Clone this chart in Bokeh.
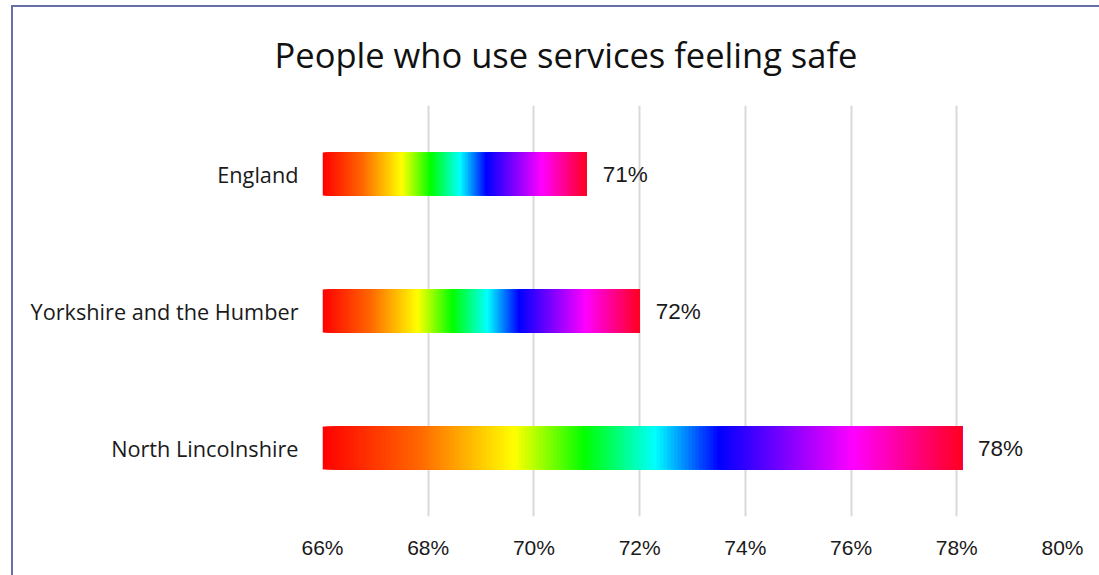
from bokeh.plotting import figure
from bokeh.models import FactorRange, Range1d, FixedTicker, Title
from bokeh.core.properties import value
from bokeh.embed import file_html
from bokeh.resources import INLINE

# ---- data ----
categories = ["England", "Yorkshire and the Humber", "North Lincolnshire"]
values = [71.0, 72.0, 78.1]
value_labels = ["71%", "72%", "78%"]
tick_values = [66, 68, 70, 72, 74, 76, 78, 80]
tick_labels = ["66%", "68%", "70%", "72%", "74%", "76%", "78%", "80%"]
axis_start = 66
title_text = "People who use services feeling safe"

# rainbow gradient stops (fraction of bar length, colour)
grad_pos = [0.0, 0.15, 0.30, 0.41, 0.52, 0.62, 0.83, 1.0]
grad_rgb = [(255, 0, 0), (255, 102, 0), (255, 255, 0), (0, 255, 0),
            (0, 255, 255), (0, 0, 255), (255, 0, 255), (255, 0, 32)]


def grad_color(t):
    for k in range(len(grad_pos) - 1):
        a, b = grad_pos[k], grad_pos[k + 1]
        if t <= b or k == len(grad_pos) - 2:
            f = (t - a) / (b - a) if b > a else 0
            f = min(max(f, 0.0), 1.0)
            c0, c1 = grad_rgb[k], grad_rgb[k + 1]
            r, g, bl = (round(c0[j] + (c1[j] - c0[j]) * f) for j in range(3))
            return "#%02x%02x%02x" % (r, g, bl)


BORDER = "#6670a8"
W, H = 1099, 575
p = figure(
    width=W, height=H,
    y_range=FactorRange(factors=list(reversed(categories))),
    x_range=Range1d(axis_start, tick_values[-1]),
    output_backend="svg", toolbar_location=None,
    min_border_left=322, min_border_right=37,
    min_border_top=105, min_border_bottom=59,
    styles={
        "background-color": "white",
        "background-image": f"linear-gradient({BORDER},{BORDER}), linear-gradient({BORDER},{BORDER})",
        "background-position": "11px 5px, 11px 5px",
        "background-size": "2px 100%, 100% 2px",
        "background-repeat": "no-repeat, no-repeat",
    },
)
p.outline_line_color = None
p.background_fill_color = "white"
p.border_fill_color = None

# gradient bars: many overlapping segments
N = 180
seg_y, seg_left, seg_right, seg_col = [], [], [], []
for cat, v in zip(categories, values):
    for i in range(N):
        seg_y.append(cat)
        seg_left.append(axis_start + (v - axis_start) * i / N)
        seg_right.append(v)
        seg_col.append(grad_color((i + 0.5) / N))
p.hbar(y=seg_y, left=seg_left, right=seg_right, height=0.314,
       fill_color=seg_col, line_color=None)

# value labels
p.text(x=values, y=categories, text=value_labels, x_offset=16,
       text_baseline="middle", text_align="left",
       text_font=value("Liberation Sans"), text_font_size="22.5px",
       text_color="#1a1a1a")

# axes
p.xaxis.ticker = FixedTicker(ticks=tick_values)
p.xaxis.major_label_overrides = {t: l for t, l in zip(tick_values, tick_labels)}
p.xaxis.axis_line_color = None
p.xaxis.major_tick_line_color = None
p.xaxis.minor_tick_line_color = None
p.xaxis.major_tick_out = 0
p.xaxis.major_tick_in = 0
p.xaxis.major_label_standoff = 19
p.xaxis.major_label_text_font = "Liberation Sans"
p.xaxis.major_label_text_font_size = "21px"
p.xaxis.major_label_text_color = "#1a1a1a"

p.yaxis.axis_line_color = None
p.yaxis.major_tick_line_color = None
p.yaxis.minor_tick_line_color = None
p.yaxis.major_tick_out = 0
p.yaxis.major_tick_in = 0
p.yaxis.major_label_standoff = 24
p.yaxis.major_label_text_font = "Open Sans"
p.yaxis.major_label_text_font_size = "21.7px"
p.yaxis.major_label_text_color = "#1a1a1a"

p.xgrid.grid_line_color = "#d9d9d9"
p.xgrid.grid_line_width = 2
p.ygrid.grid_line_color = None

# title (centred on the whole chart box, which extends past the window)
p.title = Title(text=title_text, align="left", offset=-48, standoff=55,
                text_font="Open Sans", text_font_size="34.5px",
                text_font_style="normal", text_color="#111111")

open("out.html", "w").write(file_html(p, INLINE))
